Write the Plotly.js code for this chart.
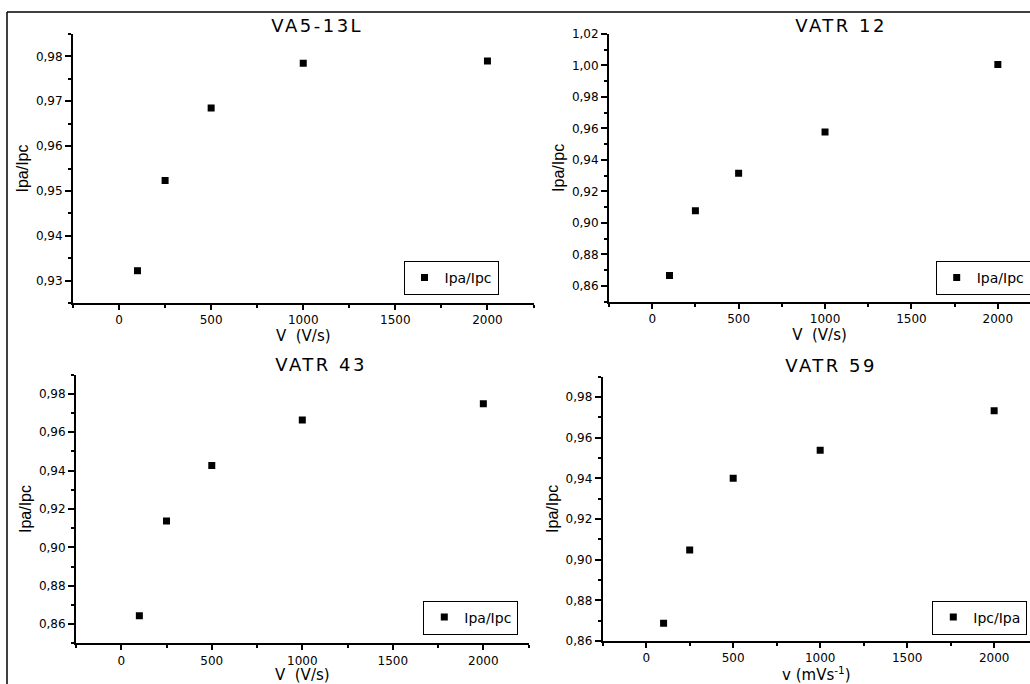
<!DOCTYPE html>
<html>
<head>
<meta charset="utf-8">
<script src="https://cdn.plot.ly/plotly-3.0.1.min.js"></script>
<style>
html,body{margin:0;padding:0;background:#fff;}
#chart{width:1030px;height:684px;}
#chart .annotation-text{letter-spacing:2.5px;}
</style>
</head>
<body>
<div id="chart"></div>
<script>
// ---- data ----
const scanRates = [100, 250, 500, 1000, 2000];
const va513L = [0.9322, 0.9523, 0.9685, 0.9785, 0.9790];
const vatr12 = [0.8666, 0.9077, 0.9315, 0.9577, 1.0007];
const vatr43 = [0.8643, 0.9137, 0.9427, 0.9664, 0.9748];
const vatr59 = [0.8687, 0.9047, 0.9401, 0.9538, 0.9733];
const panelTitles = ["VA5-13L", "VATR 12", "VATR 43", "VATR 59"];
const seriesNames = ["Ipa/Ipc", "Ipa/Ipc", "Ipa/Ipc", "Ipc/Ipa"];
const xTitles = ["V  (V/s)", "V  (V/s)", "V  (V/s)", "v (mVs<sup>-1</sup>)"];
const yTitle = "Ipa/Ipc";

const W = 1030, H = 684;
const px = v => v / W;
const py = v => (H - v) / H;

const tickFont = {family: "DejaVu Sans, Liberation Sans, Arial", size: 12, color: "#000"};
const titleFont = {family: "DejaVu Sans, Liberation Sans, Arial", size: 15, color: "#000"};
const yTitleFont = {family: "Liberation Sans, Arial", size: 16, color: "#000"};

function xAxis(domain, range, title, anchor) {
  return {
    domain: domain, range: range, anchor: anchor,
    tick0: 0, dtick: 500, ticks: "outside", ticklen: 5, tickwidth: 2, tickcolor: "#000",
    minor: {dtick: 250, tick0: 0, ticks: "outside", ticklen: 3, tickwidth: 2, tickcolor: "#000"},
    showline: true, linewidth: 2, linecolor: "#000", showgrid: false, zeroline: false,
    tickfont: tickFont, title: {text: title, font: titleFont, standoff: 3},
    fixedrange: true
  };
}
function yAxis(domain, range, dtick, minorDtick, title, anchor) {
  return {
    domain: domain, range: range, anchor: anchor,
    dtick: dtick, tick0: 0, tickformat: ".2f", ticks: "outside", ticklen: 6, tickwidth: 2, tickcolor: "#000",
    minor: {dtick: minorDtick, tick0: 0, ticks: "outside", ticklen: 3, tickwidth: 2, tickcolor: "#000"},
    showline: true, linewidth: 2, linecolor: "#000", showgrid: false, zeroline: false,
    tickfont: tickFont, title: {text: title, font: yTitleFont, standoff: 3},
    fixedrange: true
  };
}

const marker = {symbol: "square", size: 7, color: "#000"};
const allY = [va513L, vatr12, vatr43, vatr59];
const axisIds = [["x", "y"], ["x2", "y2"], ["x3", "y3"], ["x4", "y4"]];
const legendIds = ["legend", "legend2", "legend3", "legend4"];

const traces = allY.map((ys, i) => ({
  type: "scatter", mode: "markers",
  x: scanRates, y: ys, name: seriesNames[i],
  xaxis: axisIds[i][0], yaxis: axisIds[i][1],
  legend: legendIds[i],
  marker: marker, showlegend: true, hoverinfo: "x+y"
}));

const legendBase = {
  bgcolor: "#fff", bordercolor: "#000", borderwidth: 1,
  font: {family: "DejaVu Sans, Liberation Sans, Arial", size: 14, color: "#000"},
  orientation: "v", itemclick: false, itemdoubleclick: false
};

const layout = {
  width: W, height: H,
  margin: {l: 0, r: 0, t: 0, b: 0, autoexpand: false},
  paper_bgcolor: "#fff", plot_bgcolor: "#fff",
  separators: ",.",
  font: {family: "DejaVu Sans, Liberation Sans, Arial", color: "#000"},
  xaxis:  xAxis([px(73), px(533.5)], [-250, 2250], xTitles[0], "y"),
  yaxis:  yAxis([py(303), py(34)], [0.925, 0.985], 0.01, 0.005, yTitle, "x"),
  xaxis2: xAxis([px(609), 1], [-250, 2186], xTitles[1], "y2"),
  yaxis2: yAxis([py(301.7), py(34)], [0.85, 1.02], 0.02, 0.01, yTitle, "x2"),
  xaxis3: xAxis([px(76), px(528.6)], [-250, 2250], xTitles[2], "y3"),
  yaxis3: yAxis([py(643.3), py(374.7)], [0.85, 0.99], 0.02, 0.01, yTitle, "x3"),
  xaxis4: xAxis([px(602.7), 1], [-250, 2206], xTitles[3], "y4"),
  yaxis4: yAxis([py(641), py(376.7)], [0.86, 0.99], 0.02, 0.01, yTitle, "x4"),
  legend:  Object.assign({}, legendBase, {x: px(498.5), xanchor: "right", y: py(295), yanchor: "bottom"}),
  legend2: Object.assign({}, legendBase, {x: px(935.7), xanchor: "left", y: py(295), yanchor: "bottom"}),
  legend3: Object.assign({}, legendBase, {x: px(518.3), xanchor: "right", y: py(634.5), yanchor: "bottom"}),
  legend4: Object.assign({}, legendBase, {x: px(932.3), xanchor: "left", y: py(634.5), yanchor: "bottom"}),
  annotations: [
    {text: panelTitles[0], x: px(317), y: py(25)},
    {text: panelTitles[1], x: px(841), y: py(26)},
    {text: panelTitles[2], x: px(321), y: py(364)},
    {text: panelTitles[3], x: px(831), y: py(365)}
  ].map(a => Object.assign(a, {
    xref: "paper", yref: "paper", xanchor: "center", yanchor: "middle", showarrow: false,
    font: {family: "DejaVu Sans, Liberation Sans, Arial", size: 18, color: "#000"}
  })),
  shapes: [
    {type: "line", xref: "paper", yref: "paper", x0: px(7), x1: 1, y0: py(12), y1: py(12), line: {color: "#000", width: 1.5}},
    {type: "line", xref: "paper", yref: "paper", x0: px(7), x1: px(7), y0: py(12), y1: 0, line: {color: "#000", width: 1.5}}
  ]
};

Plotly.newPlot("chart", traces, layout, {displayModeBar: false, staticPlot: true});
</script>
</body>
</html>
